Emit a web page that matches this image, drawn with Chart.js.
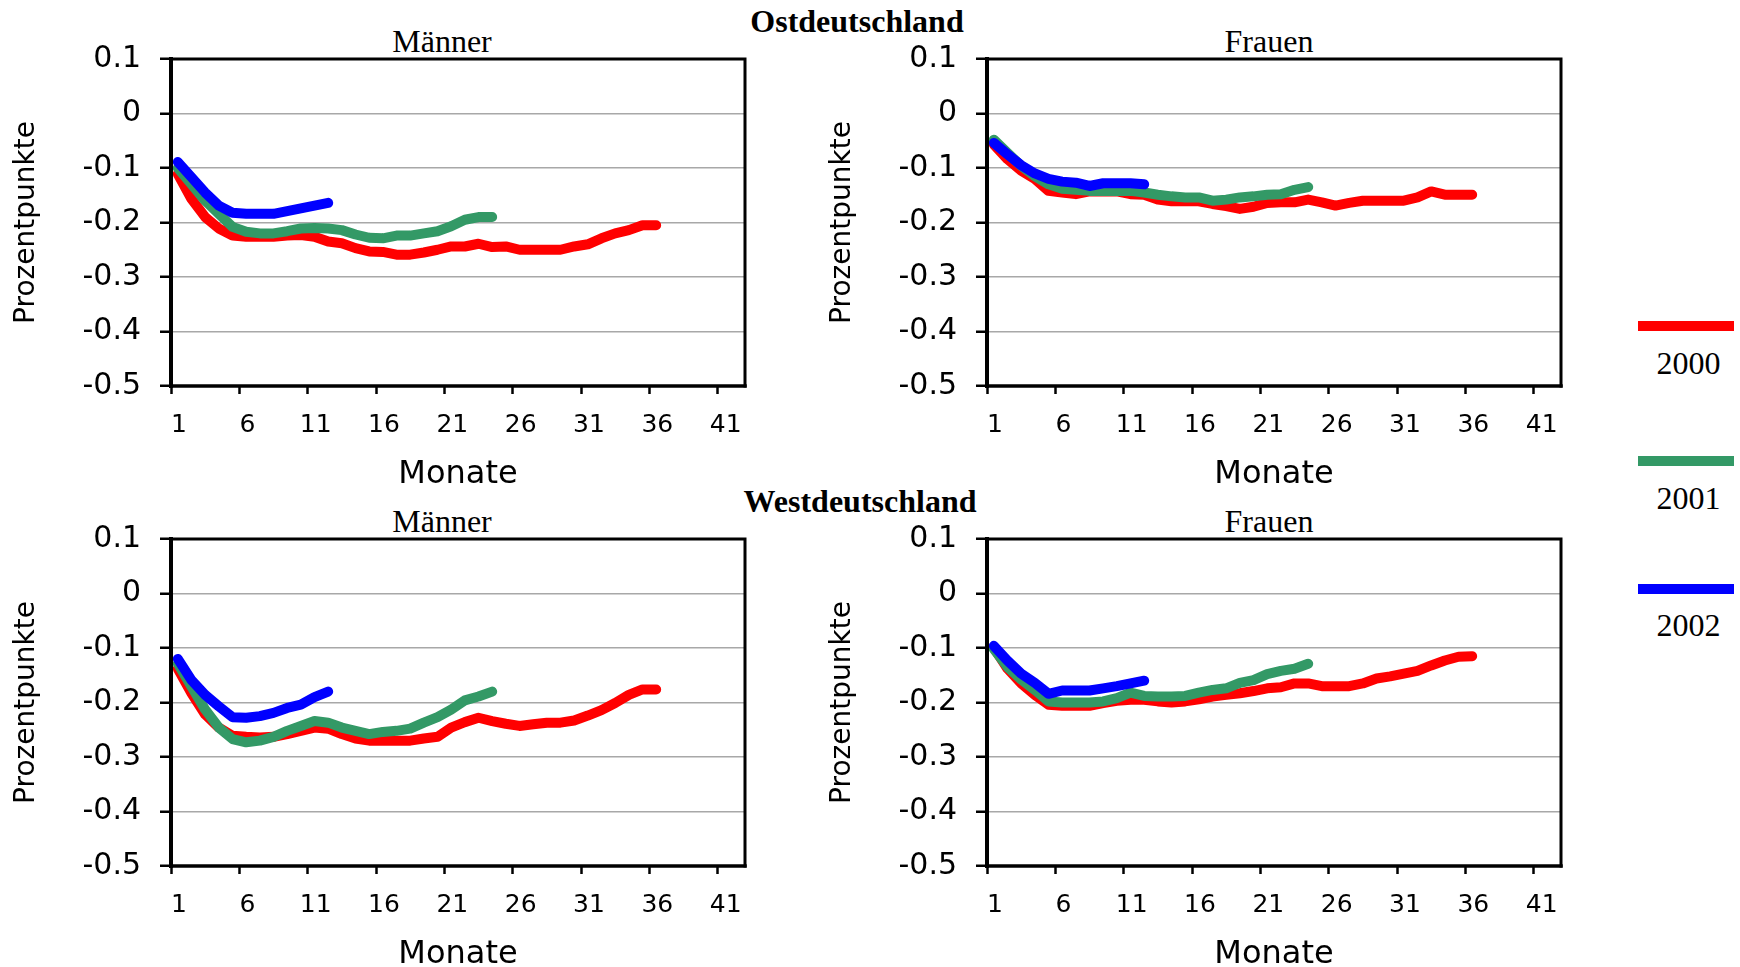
<!DOCTYPE html>
<html>
<head>
<meta charset="utf-8">
<script src="https://cdn.jsdelivr.net/npm/chart.js@4.4.1/dist/chart.umd.min.js"></script>
<style>
  html, body { margin: 0; padding: 0; background: #fff; }
  body { width: 1740px; height: 967px; position: relative; overflow: hidden; }
  canvas { position: absolute; }
  .t { position: absolute; font-family: 'Liberation Serif', 'Times New Roman', serif; line-height: 1;
       white-space: nowrap; text-align: center; width: 600px; color: #000; }
  .bar { position: absolute; height: 10px; width: 96px; }
</style>
</head>
<body>
<script>
// ---------------- DATA ----------------
const months = [1,2,3,4,5,6,7,8,9,10,11,12,13,14,15,16,17,18,19,20,21,22,23,24,25,26,27,28,29,30,31,32,33,34,35,36];
const seriesNames = ['2000', '2001', '2002'];
const seriesColors = ['#ff0000', '#339966', '#0000ff'];
const xTickLabels = ['1','6','11','16','21','26','31','36','41'];
const yTickValues = [-0.5, -0.4, -0.3, -0.2, -0.1, 0, 0.1];
const yTickLabels = ['-0.5', '-0.4', '-0.3', '-0.2', '-0.1', '0', '0.1'];
const regionTitles = ['Ostdeutschland', 'Westdeutschland'];
const panelTitles = ['Männer', 'Frauen'];

// Ostdeutschland – Männer
const ostM2000 = [-0.111,-0.157,-0.19,-0.211,-0.224,-0.226,-0.226,-0.226,-0.224,-0.223,
                  -0.226,-0.235,-0.238,-0.247,-0.253,-0.254,-0.259,-0.259,-0.255,-0.25,
                  -0.244,-0.244,-0.239,-0.245,-0.244,-0.25,-0.25,-0.25,-0.25,-0.244,
                  -0.24,-0.229,-0.22,-0.214,-0.205,-0.205];
const ostM2001 = [-0.10,-0.13,-0.16,-0.184,-0.208,-0.217,-0.22,-0.22,-0.216,-0.211,
                  -0.21,-0.211,-0.214,-0.222,-0.228,-0.229,-0.224,-0.224,-0.22,-0.216,
                  -0.207,-0.195,-0.19,-0.19];
const ostM2002 = [-0.089,-0.117,-0.145,-0.169,-0.182,-0.184,-0.184,-0.184,-0.179,-0.174,-0.169,-0.164];

// Ostdeutschland – Frauen
const ostF2000 = [-0.057,-0.084,-0.105,-0.12,-0.142,-0.145,-0.148,-0.143,-0.143,-0.143,
                  -0.148,-0.149,-0.158,-0.161,-0.161,-0.161,-0.166,-0.17,-0.175,-0.171,
                  -0.164,-0.163,-0.163,-0.158,-0.163,-0.169,-0.164,-0.16,-0.16,-0.16,
                  -0.16,-0.154,-0.143,-0.149,-0.149,-0.149];
const ostF2001 = [-0.048,-0.072,-0.096,-0.115,-0.13,-0.138,-0.14,-0.142,-0.142,-0.142,
                  -0.142,-0.145,-0.149,-0.152,-0.154,-0.154,-0.16,-0.158,-0.154,-0.152,
                  -0.149,-0.148,-0.14,-0.135];
const ostF2002 = [-0.054,-0.075,-0.095,-0.11,-0.12,-0.125,-0.127,-0.133,-0.128,-0.128,-0.128,-0.13];

// Westdeutschland – Männer
const westM2000 = [-0.138,-0.183,-0.222,-0.246,-0.261,-0.263,-0.264,-0.263,-0.258,-0.252,
                   -0.246,-0.248,-0.258,-0.266,-0.27,-0.27,-0.27,-0.27,-0.266,-0.263,
                   -0.246,-0.236,-0.228,-0.234,-0.239,-0.243,-0.24,-0.237,-0.237,-0.233,
                   -0.224,-0.214,-0.201,-0.186,-0.176,-0.176];
const westM2001 = [-0.129,-0.171,-0.213,-0.246,-0.267,-0.273,-0.27,-0.263,-0.252,-0.243,
                   -0.234,-0.237,-0.246,-0.252,-0.258,-0.254,-0.252,-0.248,-0.237,-0.227,
                   -0.213,-0.196,-0.189,-0.18];
const westM2002 = [-0.12,-0.159,-0.186,-0.207,-0.227,-0.228,-0.225,-0.219,-0.21,-0.204,-0.19,-0.18];

// Westdeutschland – Frauen
const westF2000 = [-0.099,-0.138,-0.165,-0.186,-0.204,-0.206,-0.206,-0.206,-0.201,-0.197,
                   -0.195,-0.195,-0.198,-0.2,-0.198,-0.194,-0.189,-0.186,-0.183,-0.179,
                   -0.174,-0.172,-0.165,-0.165,-0.17,-0.17,-0.17,-0.165,-0.156,-0.152,
                   -0.147,-0.142,-0.132,-0.123,-0.116,-0.115];
const westF2001 = [-0.102,-0.135,-0.158,-0.177,-0.198,-0.2,-0.2,-0.2,-0.198,-0.192,
                   -0.182,-0.188,-0.189,-0.189,-0.188,-0.182,-0.177,-0.174,-0.164,-0.159,
                   -0.148,-0.142,-0.138,-0.129];
const westF2002 = [-0.096,-0.123,-0.147,-0.164,-0.184,-0.178,-0.178,-0.178,-0.174,-0.17,-0.165,-0.16];

// ---------------- LAYOUT ----------------
function addText(txt, cx, top, size, bold) {
  const d = document.createElement('div');
  d.className = 't';
  d.textContent = txt;
  d.style.left = (cx - 300) + 'px';
  d.style.top = top + 'px';
  d.style.fontSize = size + 'px';
  if (bold) d.style.fontWeight = 'bold';
  document.body.appendChild(d);
}

addText(regionTitles[0], 857, 5, 32, true);
addText(regionTitles[1], 860, 485, 32, true);
addText(panelTitles[0], 442, 25, 32, false);
addText(panelTitles[1], 1269, 25, 32, false);
addText(panelTitles[0], 442, 505, 32, false);
addText(panelTitles[1], 1269, 505, 32, false);

// legend
const legendBarTops = [321, 456, 584];
const legendTextTops = [346.5, 481.5, 609];
seriesNames.forEach((n, i) => {
  const b = document.createElement('div');
  b.className = 'bar';
  b.style.left = '1638px';
  b.style.top = legendBarTops[i] + 'px';
  b.style.background = seriesColors[i];
  document.body.appendChild(b);
  addText(n, 1688.5, legendTextTops[i], 32, false);
});

const framePlugin = {
  id: 'frame',
  afterDraw(chart) {
    const { ctx, chartArea: a } = chart;
    ctx.save();
    ctx.strokeStyle = '#000';
    ctx.lineCap = 'square';
    ctx.lineWidth = 3;
    ctx.beginPath();
    ctx.moveTo(a.left, a.top); ctx.lineTo(a.right, a.top); ctx.lineTo(a.right, a.bottom);
    ctx.stroke();
    ctx.lineWidth = 3.5;
    ctx.beginPath();
    ctx.moveTo(a.left, a.bottom); ctx.lineTo(a.right, a.bottom);
    ctx.stroke();
    ctx.lineWidth = 4;
    ctx.beginPath();
    ctx.moveTo(a.left, a.top); ctx.lineTo(a.left, a.bottom);
    ctx.stroke();
    ctx.restore();
  }
};

function panel(left, top, series) {
  const cv = document.createElement('canvas');
  cv.width = 760; cv.height = 494;
  cv.style.left = left + 'px';
  cv.style.top = top + 'px';
  document.body.appendChild(cv);
  new Chart(cv.getContext('2d'), {
    type: 'line',
    data: {
      datasets: series.map((d, i) => ({
        label: seriesNames[i],
        data: d.map((v, j) => ({ x: months[j], y: v })),
        borderColor: seriesColors[i],
        backgroundColor: seriesColors[i],
        borderWidth: 10,
        pointRadius: 0,
        borderCapStyle: 'round',
        borderJoinStyle: 'round',
        fill: false,
        tension: 0,
        order: 3 - i
      }))
    },
    options: {
      responsive: false,
      animation: false,
      events: [],
      layout: { padding: { left: 0, top: 59, right: 15, bottom: 0 } },
      plugins: { legend: { display: false }, tooltip: { enabled: false }, title: { display: false } },
      scales: {
        x: {
          type: 'linear', min: 0.5, max: 42.5,
          afterBuildTicks: s => { s.ticks = xTickLabels.map(l => ({ value: Number(l) - 0.5 })); },
          afterFit: s => { s.height = 108; },
          ticks: {
            callback: (v, i) => xTickLabels[i],
            labelOffset: 8, padding: 16, maxRotation: 0, minRotation: 0, autoSkip: false,
            font: { family: 'DejaVu Sans', size: 25 }, color: '#000'
          },
          grid: { drawOnChartArea: false, drawTicks: true, tickLength: 8, tickColor: '#000', tickWidth: 2.5 },
          border: { display: false },
          title: { display: true, text: 'Monate', font: { family: 'DejaVu Sans', size: 32 }, color: '#000',
                   padding: { top: 0, bottom: 0 } }
        },
        y: {
          min: -0.5, max: 0.1,
          afterBuildTicks: s => { s.ticks = yTickValues.map(v => ({ value: v })); },
          afterFit: s => { s.width = 171; },
          ticks: {
            callback: (v, i) => yTickLabels[i],
            padding: 19, autoSkip: false,
            font: { family: 'DejaVu Sans', size: 30 }, color: '#000'
          },
          grid: { color: '#a8a8a8', lineWidth: 1.5, tickLength: 11, tickColor: '#000', tickWidth: 2.5 },
          border: { display: false },
          title: { display: true, text: 'Prozentpunkte', font: { family: 'DejaVu Sans', size: 28 }, color: '#000',
                   padding: { top: 10, bottom: 0 } }
        }
      }
    },
    plugins: [framePlugin]
  });
}

panel(0, 0, [ostM2000, ostM2001, ostM2002]);
panel(816, 0, [ostF2000, ostF2001, ostF2002]);
panel(0, 480, [westM2000, westM2001, westM2002]);
panel(816, 480, [westF2000, westF2001, westF2002]);
</script>
</body>
</html>
